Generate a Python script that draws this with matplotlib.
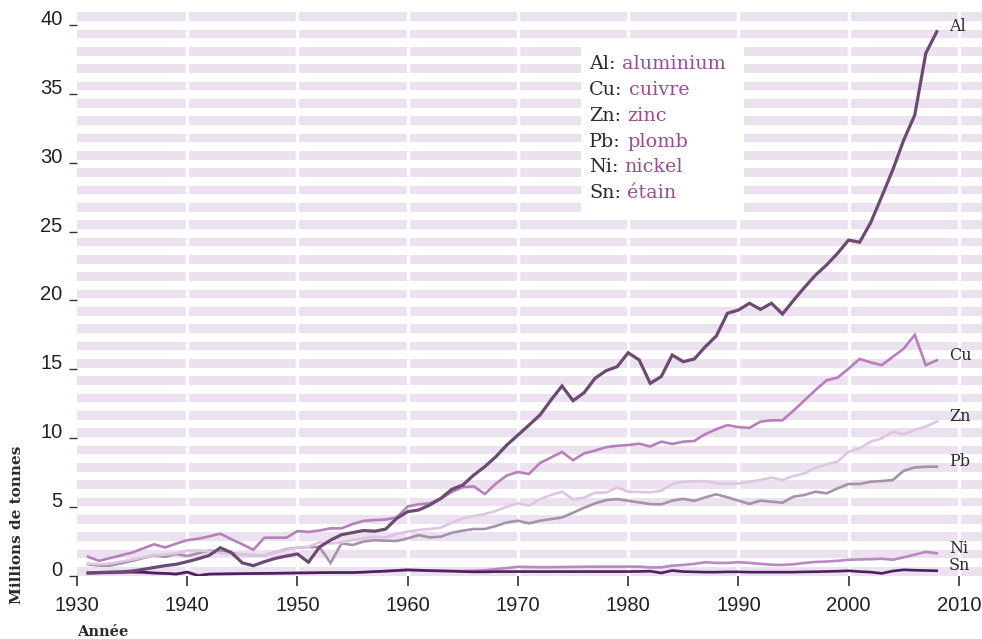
import matplotlib.pyplot as plt
from matplotlib.patches import Rectangle

# world production, millions of tonnes, 1931-2008
years = list(range(1931, 2009))

al = [0.22, 0.25, 0.28, 0.30, 0.36, 0.48, 0.62, 0.75, 0.85, 1.04,
      1.25, 1.50, 2.05, 1.70, 0.95, 0.75, 1.04, 1.28, 1.45, 1.60,
      1.00, 2.10, 2.60, 3.00, 3.15, 3.30, 3.25, 3.40, 4.18, 4.67,
      4.79, 5.15, 5.63, 6.29, 6.60, 7.33, 7.94, 8.66, 9.51, 10.23,
      10.95, 11.68, 12.77, 13.79, 12.72, 13.30, 14.35, 14.90, 15.19, 16.20,
      15.68, 13.98, 14.47, 16.04, 15.55, 15.75, 16.64, 17.42, 19.06, 19.30,
      19.79, 19.35, 19.79, 19.01, 20.00, 20.95, 21.84, 22.57, 23.42, 24.38,
      24.22, 25.64, 27.53, 29.46, 31.64, 33.45, 37.93, 39.50]

cu = [1.40, 1.10, 1.30, 1.50, 1.70, 2.00, 2.30, 2.07, 2.35, 2.60,
      2.70, 2.88, 3.07, 2.67, 2.30, 1.90, 2.78, 2.78, 2.78, 3.26,
      3.20, 3.30, 3.46, 3.46, 3.77, 4.00, 4.06, 4.10, 4.25, 5.05,
      5.20, 5.27, 5.60, 6.10, 6.45, 6.50, 5.95, 6.70, 7.30, 7.55,
      7.40, 8.20, 8.60, 9.00, 8.40, 8.90, 9.10, 9.35, 9.45, 9.50,
      9.60, 9.40, 9.75, 9.58, 9.75, 9.80, 10.30, 10.65, 10.95, 10.80,
      10.75, 11.20, 11.30, 11.30, 12.00, 12.75, 13.50, 14.20, 14.40, 15.05,
      15.75, 15.50, 15.30, 15.90, 16.50, 17.50, 15.30, 15.65]

zn = [0.90, 0.85, 0.90, 1.05, 1.20, 1.35, 1.50, 1.55, 1.65, 1.85,
      1.85, 1.80, 1.65, 1.62, 1.55, 1.48, 1.50, 1.72, 1.90, 2.05,
      2.12, 2.45, 2.35, 2.45, 2.60, 2.75, 2.85, 2.80, 3.05, 3.22,
      3.34, 3.41, 3.51, 3.87, 4.18, 4.35, 4.50, 4.72, 5.03, 5.27,
      5.10, 5.58, 5.88, 6.12, 5.56, 5.68, 6.05, 6.05, 6.43, 6.12,
      6.10, 6.07, 6.20, 6.68, 6.84, 6.87, 6.89, 6.72, 6.68, 6.72,
      6.84, 6.96, 7.14, 6.96, 7.26, 7.45, 7.86, 8.10, 8.30, 9.02,
      9.26, 9.75, 9.99, 10.47, 10.28, 10.60, 10.84, 11.20]

pb = [0.85, 0.75, 0.75, 0.92, 1.10, 1.30, 1.50, 1.40, 1.60, 1.45,
      1.65, 1.85, 1.77, 1.65, 1.55, 1.50, 1.50, 1.72, 1.95, 2.05,
      2.10, 2.10, 0.95, 2.37, 2.25, 2.50, 2.60, 2.56, 2.54, 2.73,
      2.97, 2.80, 2.85, 3.14, 3.29, 3.41, 3.41, 3.63, 3.89, 4.01,
      3.82, 4.01, 4.13, 4.25, 4.59, 4.95, 5.27, 5.51, 5.58, 5.46,
      5.34, 5.22, 5.20, 5.47, 5.60, 5.45, 5.71, 5.93, 5.71, 5.47,
      5.23, 5.47, 5.39, 5.32, 5.76, 5.88, 6.12, 6.00, 6.36, 6.68,
      6.68, 6.84, 6.89, 6.96, 7.64, 7.88, 7.93, 7.93]

ni = [0.20, 0.20, 0.22, 0.24, 0.25, 0.24, 0.20, 0.18, 0.14, 0.25,
      0.05, 0.14, 0.15, 0.16, 0.17, 0.18, 0.19, 0.20, 0.21, 0.22,
      0.23, 0.24, 0.25, 0.25, 0.25, 0.28, 0.32, 0.34, 0.38, 0.42,
      0.40, 0.38, 0.37, 0.36, 0.36, 0.38, 0.42, 0.50, 0.58, 0.67,
      0.65, 0.64, 0.64, 0.65, 0.66, 0.67, 0.68, 0.68, 0.68, 0.68,
      0.68, 0.62, 0.63, 0.75, 0.80, 0.88, 1.00, 0.95, 0.95, 1.00,
      0.95, 0.88, 0.82, 0.80, 0.85, 0.95, 1.02, 1.05, 1.10, 1.18,
      1.20, 1.22, 1.25, 1.18, 1.35, 1.55, 1.75, 1.65]

sn = [0.22, 0.24, 0.26, 0.28, 0.30, 0.28, 0.22, 0.19, 0.14, 0.29,
      0.02, 0.14, 0.15, 0.16, 0.17, 0.18, 0.19, 0.20, 0.21, 0.22,
      0.23, 0.24, 0.25, 0.25, 0.25, 0.28, 0.32, 0.36, 0.40, 0.45,
      0.42, 0.39, 0.37, 0.35, 0.32, 0.30, 0.30, 0.32, 0.32, 0.32,
      0.32, 0.32, 0.32, 0.32, 0.32, 0.32, 0.32, 0.32, 0.32, 0.32,
      0.33, 0.35, 0.22, 0.40, 0.32, 0.30, 0.28, 0.28, 0.30, 0.30,
      0.28, 0.28, 0.28, 0.28, 0.28, 0.30, 0.31, 0.33, 0.35, 0.38,
      0.32, 0.28, 0.19, 0.36, 0.45, 0.42, 0.40, 0.38]

symbols = ['Al', 'Cu', 'Zn', 'Pb', 'Ni', 'Sn']
names = ['aluminium', 'cuivre', 'zinc', 'plomb', 'nickel', 'étain']
colors = {'Al': '#6c4a73', 'Cu': '#b77fbc', 'Zn': '#dfc4e3',
          'Pb': '#a891aa', 'Ni': '#bd87c2', 'Sn': '#4f1f5f'}
series = {'Al': al, 'Cu': cu, 'Zn': zn, 'Pb': pb, 'Ni': ni, 'Sn': sn}

stripe = '#ece1ee'
ink = '#2b2b2b'
purple = '#9a4d92'

fig = plt.figure(figsize=(9.82, 6.39), dpi=100)
ax = fig.add_axes([77 / 982, 63 / 639, 905 / 982, 576 / 639])
ax.set_xlim(1930, 2012.1)
ax.set_ylim(0, 41.8)

# striped background with white breaks at each decade
for k in range(33):
    ax.axhspan(0.02 + 1.258 * k, 0.66 + 1.258 * k, color=stripe, lw=0, zorder=0)
for dec in range(1940, 2020, 10):
    ax.axvline(dec, color='white', lw=2.4, zorder=1)

# legend box
ax.add_patch(Rectangle((581 / 982, 1 - 215 / 639), 163 / 982, 173 / 639,
                       transform=fig.transFigure, facecolor='white',
                       edgecolor='none', zorder=2))

for s in ['Ni', 'Sn', 'Pb', 'Zn', 'Cu', 'Al']:
    lw = 2.3 if s == 'Al' else 1.9
    ax.plot(years, series[s], color=colors[s], lw=lw, zorder=3,
            solid_joinstyle='miter')

for s in symbols:
    ax.text(2009.1, series[s][-1] + 0.35, s, ha='left', va='center',
            fontsize=11.5, family='DejaVu Serif', color=ink, zorder=4)

for i, (s, n) in enumerate(zip(symbols, names)):
    y = 1 - (69.3 + 25.8 * i) / 639
    t = fig.text(589 / 982, y, s + ':', fontsize=13.8, family='DejaVu Serif',
                 color=ink, va='baseline', zorder=5)
    ax.annotate(n, xy=(1, 0), xycoords=t, xytext=(4.5, 0),
                textcoords='offset points', va='bottom', ha='left',
                fontsize=13.8, family='DejaVu Serif', color=purple, zorder=5)

for side in ['top', 'right', 'left', 'bottom']:
    ax.spines[side].set_visible(False)

ax.set_xticks(range(1930, 2011, 10))
ax.set_yticks(range(0, 41, 5))
ax.tick_params(axis='x', direction='out', length=7.2, width=1.2,
               color='#333333', pad=7, labelsize=14.5, labelcolor='#222222')
ax.tick_params(axis='y', direction='out', length=5.8, width=1.0,
               color='#333333', pad=4.5, labelsize=14.5, labelcolor='#222222')
for lab in ax.get_xticklabels() + ax.get_yticklabels():
    lab.set_family('Liberation Sans')
for lab in ax.get_yticklabels():
    lab.set_verticalalignment('baseline')

fig.text(17.5 / 982, 1 - 525 / 639, 'Millions de tonnes', rotation=90,
         ha='center', va='center', fontsize=11, fontweight='bold',
         family='DejaVu Serif', color=ink)
fig.text(77 / 982, 1 - 636 / 639, 'Année', ha='left', va='baseline',
         fontsize=10.5, fontweight='bold', family='DejaVu Serif', color=ink)

fig.savefig('out.png', dpi=100)
